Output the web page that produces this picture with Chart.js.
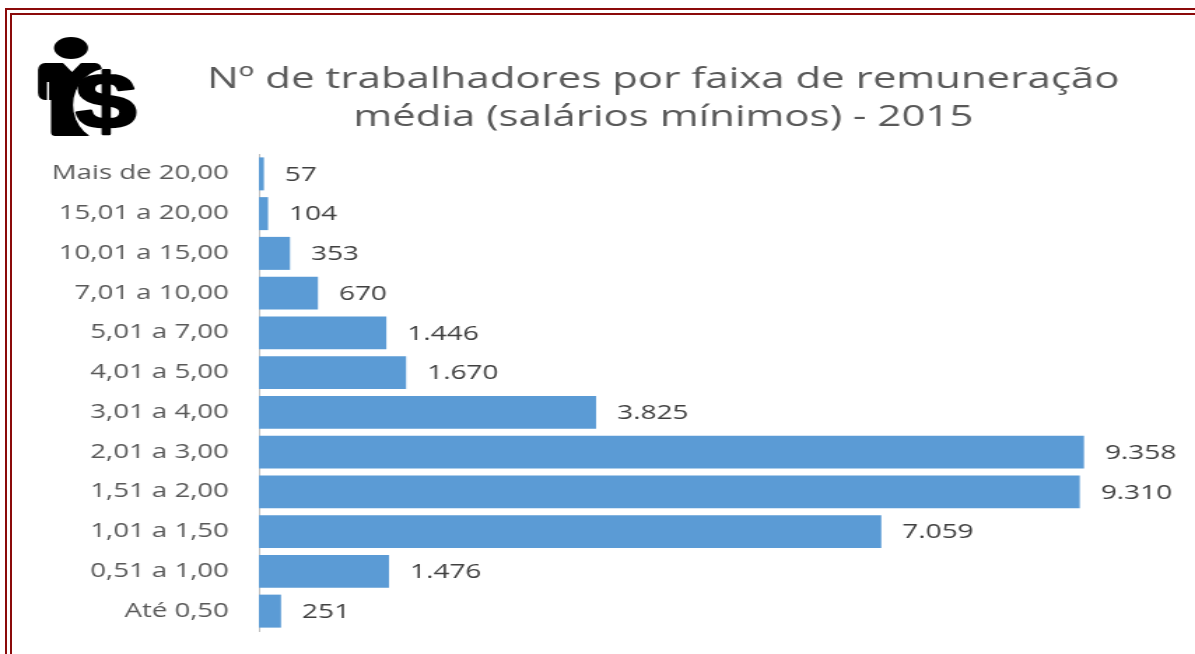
<!DOCTYPE html>
<html><head><meta charset="utf-8">
<style>
html,body{margin:0;padding:0;background:#fff;width:1195px;height:654px;overflow:hidden}
#wrap{position:absolute;left:0;top:0;width:1195px;height:654px;overflow:hidden}
#f1{position:absolute;left:5px;top:8px;width:1300px;height:800px;border:2px solid #8b0a0a;box-sizing:border-box}
#f2{position:absolute;left:10px;top:13px;width:1300px;height:800px;border:2px solid #8b0a0a;box-sizing:border-box}
canvas{position:absolute;left:0;top:0}
</style>
<script src="https://cdn.jsdelivr.net/npm/chart.js@4"></script>
</head><body><div id="wrap"><div id="f1"></div><div id="f2"></div>
<canvas id="c" width="854" height="654" style="width:1195px;height:654px"></canvas></div>
<script>
const categories=["Mais de 20,00","15,01 a 20,00","10,01 a 15,00","7,01 a 10,00","5,01 a 7,00","4,01 a 5,00","3,01 a 4,00","2,01 a 3,00","1,51 a 2,00","1,01 a 1,50","0,51 a 1,00","Até 0,50"];
const values=[57,104,353,670,1446,1670,3825,9358,9310,7059,1476,251];
const titleLines=["Nº de trabalhadores por faixa de remuneração","média (salários mínimos) - 2015"];
const fmt=v=>String(v).replace(/\B(?=(\d{3})+$)/g,'.');
const labelsPlugin={id:'vals',afterDatasetsDraw(ch){const c=ch.ctx;const m=ch.getDatasetMeta(0);c.save();c.font='20px "Open Sans"';c.fillStyle='#404040';c.textBaseline='middle';c.textAlign='left';
m.data.forEach((b,i)=>c.fillText(fmt(values[i]),b.x+15,b.y+1));c.restore();}};
const titlePlugin={id:'ttl',afterDraw(ch){const c=ch.ctx;c.save();c.font='30px "Open Sans"';c.fillStyle='#595959';c.textAlign='center';c.textBaseline='middle';
titleLines.forEach((t,i)=>c.fillText(t,474,79+i*38));c.restore();}};
const iconPlugin={id:'icon',afterDraw(ch){const c=ch.ctx;const k=854/1195;c.save();c.scale(k,1);c.fillStyle='#000';
c.beginPath();c.ellipse(71,48,17,11,0,0,7);c.fill();
c.beginPath();c.roundRect(38,63,64,37,7);c.fill();
c.beginPath();c.roundRect(51,80,40,56,4);c.fill();
c.fillStyle='#fff';c.beginPath();c.moveTo(62,62);c.lineTo(72,72);c.lineTo(82,62);c.fill();
c.strokeStyle='#fff';c.lineWidth=2;c.beginPath();c.moveTo(48,82);c.lineTo(48,100);c.stroke();
c.fillStyle='#fff';c.beginPath();c.arc(110,105,37,0,7);c.fill();
c.restore();c.save();
c.font='bold 78px "Liberation Sans"';c.textAlign='center';c.textBaseline='middle';c.fillStyle='#000';c.strokeStyle='#000';c.lineWidth=2.5;c.lineJoin='round';
c.strokeText('$',106*k,106);c.fillText('$',106*k,106);c.restore();}};
new Chart(document.getElementById('c'),{type:'bar',plugins:[labelsPlugin,iconPlugin,titlePlugin],
data:{labels:categories,datasets:[{data:values,backgroundColor:'#5b9bd5',barPercentage:0.83,categoryPercentage:1}]},
options:{indexAxis:'y',responsive:false,animation:false,
layout:{padding:{left:0,right:0,top:154,bottom:23}},
plugins:{legend:{display:false},tooltip:{enabled:false},title:{display:false}},
scales:{y:{afterFit(s){s.width=185;s.paddingTop=0;s.paddingBottom=0},grid:{display:false,drawTicks:false},border:{color:'#bfbfbf',width:1},
ticks:{color:'#595959',padding:21.5,font:{family:'"Open Sans"',size:19.7}}},
x:{min:0,max:10617,display:false,afterFit(s){s.height=0;s.paddingLeft=0;s.paddingRight=0}}}}});
</script></body></html>
